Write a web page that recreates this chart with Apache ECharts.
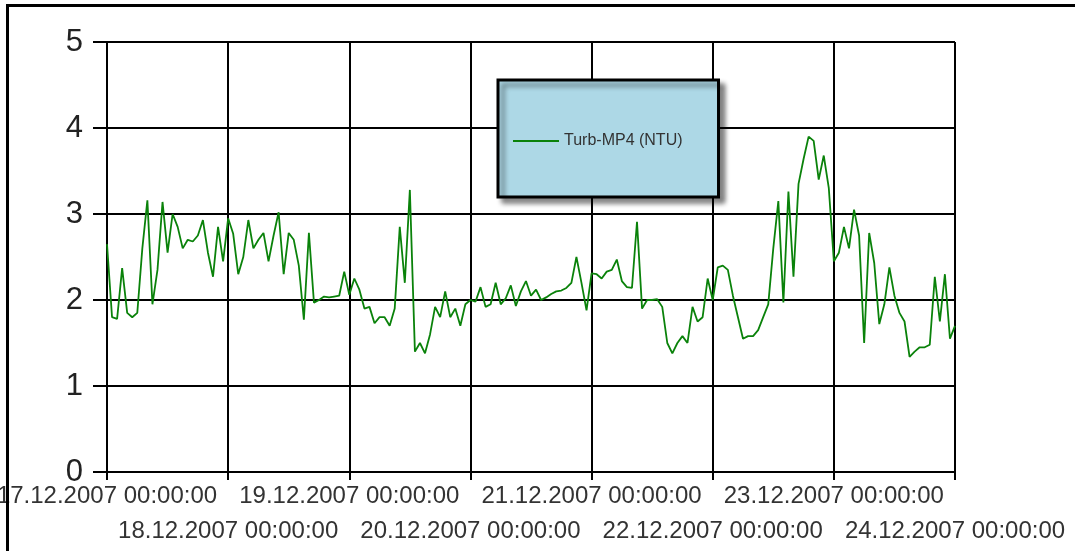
<!DOCTYPE html>
<html>
<head>
<meta charset="utf-8">
<script src="https://cdn.jsdelivr.net/npm/echarts@6/dist/echarts.min.js"></script>
<style>
  html, body { margin: 0; padding: 0; background: #fff; }
  #frame { position: absolute; left: 6px; top: 4px; width: 1100px; height: 600px; border-top: 3px solid #000; border-left: 3px solid #000; pointer-events: none; z-index: 2; }
  #chart { position: absolute; left: 0; top: 0; width: 1075px; height: 551px; }
</style>
</head>
<body>
<div id="chart"></div>
<div id="frame"></div>
<script>
// Hourly readings starting 17.12.2007 00:00:00 (hour offset from start)
const seriesName = 'Turb-MP4 (NTU)';
const tickLabels = [
  '17.12.2007 00:00:00', '18.12.2007 00:00:00', '19.12.2007 00:00:00', '20.12.2007 00:00:00',
  '21.12.2007 00:00:00', '22.12.2007 00:00:00', '23.12.2007 00:00:00', '24.12.2007 00:00:00'
];
const turbValues = [
  // 17.12
  2.65, 1.8, 1.78, 2.37, 1.85, 1.8, 1.85, 2.6, 3.16, 1.95, 2.35, 3.14, 2.55, 3.0, 2.85, 2.6,
  2.7, 2.68, 2.75, 2.93, 2.55, 2.27, 2.85, 2.45,
  // 18.12
  2.95, 2.77, 2.3, 2.5, 2.93, 2.6, 2.7, 2.78, 2.45, 2.75, 3.02, 2.3, 2.78, 2.7, 2.4, 1.77,
  2.78, 1.97, 2.0, 2.04, 2.03, 2.04, 2.05, 2.33,
  // 19.12
  2.06, 2.25, 2.12, 1.9, 1.92, 1.73, 1.8, 1.8, 1.7, 1.9, 2.85, 2.2, 3.28, 1.4, 1.5, 1.38,
  1.6, 1.92, 1.8, 2.1, 1.8, 1.9, 1.7, 1.95,
  // 20.12
  2.0, 1.98, 2.15, 1.92, 1.95, 2.2, 1.95, 2.02, 2.17, 1.93, 2.1, 2.22, 2.05, 2.12, 2.0, 2.03,
  2.07, 2.1, 2.11, 2.14, 2.2, 2.5, 2.2, 1.88,
  // 21.12
  2.31, 2.3, 2.25, 2.33, 2.35, 2.47, 2.22, 2.15, 2.14, 2.91, 1.9, 2.0, 2.0, 2.01, 1.92, 1.5,
  1.38, 1.5, 1.58, 1.5, 1.92, 1.75, 1.8, 2.25,
  // 22.12
  2.0, 2.38, 2.4, 2.35, 2.05, 1.8, 1.55, 1.58, 1.58, 1.65, 1.8, 1.95, 2.6, 3.15, 1.97, 3.26,
  2.27, 3.35, 3.64, 3.9, 3.85, 3.4, 3.68, 3.3,
  // 23.12
  2.45, 2.55, 2.85, 2.6, 3.05, 2.75, 1.5, 2.78, 2.43, 1.72, 1.95, 2.38, 2.05, 1.85, 1.75, 1.34,
  1.4, 1.45, 1.45, 1.48, 2.27, 1.75, 2.3, 1.55,
  // 24.12
  1.7
];
const hoursPerDay = 24;

const chart = echarts.init(document.getElementById('chart'), null, { renderer: 'canvas' });
const points = turbValues.map((v, i) => [i, v]);
const labelFont = 'Liberation Sans, Arial, sans-serif';
const xMax = (tickLabels.length - 1) * hoursPerDay;

function xAxisFor(parity, margin, showLines) {
  return {
    type: 'value', position: 'bottom',
    min: 0, max: xMax, interval: hoursPerDay,
    axisLine: { show: showLines, onZero: false, lineStyle: { color: '#000', width: 2 } },
    axisTick: { show: showLines, length: 8, lineStyle: { color: '#000', width: 2 } },
    splitLine: { show: showLines, lineStyle: { color: '#000', width: 2 } },
    axisLabel: {
      show: true, showMinLabel: true, showMaxLabel: true, hideOverlap: false,
      margin: margin,
      fontFamily: labelFont, fontSize: 24, color: '#333',
      formatter: function (v) {
        const idx = Math.round(v / hoursPerDay);
        return idx % 2 === parity ? (tickLabels[idx] || '') : '';
      }
    }
  };
}

chart.setOption({
  animation: false,
  backgroundColor: '#fff',
  grid: { left: 107, right: 120, top: 42, bottom: 79, containLabel: false, outerBoundsMode: 'none' },
  legend: {
    left: 498, top: 80,
    orient: 'horizontal',
    data: [{ name: seriesName, icon: 'rect' }],
    itemWidth: 46, itemHeight: 2,
    padding: [53, 36, 48, 15],
    backgroundColor: '#add8e6',
    borderColor: '#000', borderWidth: 3,
    shadowColor: 'rgba(0,0,0,0.45)', shadowBlur: 5, shadowOffsetX: 5, shadowOffsetY: 5,
    textStyle: { fontFamily: labelFont, fontSize: 16, color: '#333' },
    selectedMode: false
  },
  xAxis: [xAxisFor(0, 12, true), xAxisFor(1, 47, false)],
  yAxis: {
    type: 'value', min: 0, max: 5, interval: 1,
    axisLine: { show: true, lineStyle: { color: '#000', width: 2 } },
    axisTick: { show: true, length: 14, lineStyle: { color: '#000', width: 2 } },
    splitLine: { show: true, lineStyle: { color: '#000', width: 2 } },
    axisLabel: { margin: 24, fontFamily: labelFont, fontSize: 31, color: '#222' }
  },
  series: [{
    name: seriesName,
    type: 'line',
    xAxisIndex: 0,
    data: points,
    showSymbol: false,
    symbol: 'none',
    lineStyle: { color: '#0a820a', width: 1.8 },
    itemStyle: { color: '#0a820a' },
    z: 3
  }]
});
</script>
</body>
</html>
